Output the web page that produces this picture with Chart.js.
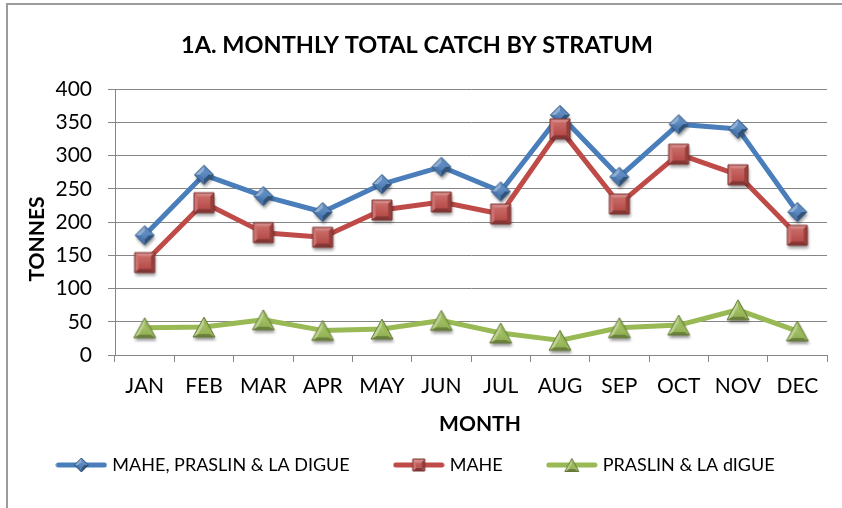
<!DOCTYPE html>
<html><head><meta charset="utf-8">
<script src="https://cdn.jsdelivr.net/npm/chart.js@4.4.1/dist/chart.umd.min.js"></script>
<style>
html,body{margin:0;padding:0;background:#fff;overflow:hidden;}
#wrap{position:relative;width:842px;height:508px;overflow:hidden;}
#frame{position:absolute;left:6px;top:3px;width:900px;height:600px;border:2px solid #9c9c9c;box-sizing:border-box;pointer-events:none;}
canvas{position:absolute;left:0;top:0;}
</style></head><body>
<div id="wrap"><canvas id="c" width="842" height="508"></canvas><div id="frame"></div></div>
<script>
// ---- data ----
const months = ['JAN','FEB','MAR','APR','MAY','JUN','JUL','AUG','SEP','OCT','NOV','DEC'];
const seriesNames = ['MAHE, PRASLIN & LA DIGUE','MAHE','PRASLIN & LA dIGUE'];
const totalCatch   = [180, 271, 239, 215, 257, 283, 246, 361, 268, 347, 340, 215];
const maheCatch    = [139, 229, 184, 177, 218, 230, 212, 340, 227, 302, 271, 180];
const praslinCatch = [ 41,  42,  53,  37,  39,  52,  33,  22,  41,  45,  68,  36];
const yMin = 0, yMax = 400, yStep = 50;
const chartTitle = '1A. MONTHLY TOTAL CATCH BY STRATUM';
const xTitle = 'MONTH';
const yTitle = 'TONNES';

// ---- styling helpers ----
const FONT = 'Lato';
function rgb(hex){const n=parseInt(hex.slice(1),16);return [n>>16,(n>>8)&255,n&255];}
function shade(hex,amt){let [r,g,b]=rgb(hex);
  if(amt>0){r+=(255-r)*amt;g+=(255-g)*amt;b+=(255-b)*amt;}else{r*=1+amt;g*=1+amt;b*=1+amt;}
  return 'rgb('+(r|0)+','+(g|0)+','+(b|0)+')';}
function poly(g,pts){g.beginPath();g.moveTo(pts[0][0],pts[0][1]);for(let i=1;i<pts.length;i++)g.lineTo(pts[i][0],pts[i][1]);g.closePath();}
function makeMarker(verts, base, size, f, shadow){
  const c=document.createElement('canvas');c.width=c.height=size;
  const g=c.getContext('2d');const m=size/2;
  const P=verts.map(([x,y])=>[m+x,m+y]);
  const C=[P.reduce((s,p)=>s+p[0],0)/P.length,P.reduce((s,p)=>s+p[1],0)/P.length];
  const Q=P.map(([x,y])=>[C[0]+(x-C[0])*f,C[1]+(y-C[1])*f]);
  if(shadow){g.save();g.shadowColor='rgba(0,0,0,0.38)';g.shadowBlur=3;g.shadowOffsetX=1;g.shadowOffsetY=3;
    poly(g,P);g.fillStyle=base;g.fill();g.restore();}
  const L=[-0.55,-0.83];
  for(let i=0;i<P.length;i++){
    const a=P[i],b=P[(i+1)%P.length];
    let nx=(a[0]+b[0])/2-C[0],ny=(a[1]+b[1])/2-C[1];const d=Math.hypot(nx,ny);nx/=d;ny/=d;
    const dot=nx*L[0]+ny*L[1];
    poly(g,[a,b,Q[(i+1)%P.length],Q[i]]);
    g.fillStyle=shade(base,dot*0.38);g.fill();
  }
  const top=Math.min(...Q.map(q=>q[1])),bot=Math.max(...Q.map(q=>q[1]));
  const gr=g.createLinearGradient(0,top,0,bot);gr.addColorStop(0,shade(base,0.15));gr.addColorStop(1,shade(base,-0.05));
  poly(g,Q);g.fillStyle=gr;g.fill();
  poly(g,P);g.lineWidth=1;g.strokeStyle=shade(base,-0.35);g.stroke();
  return c;
}
const diamond=r=>[[0,-r],[r,0],[0,r],[-r,0]];
const square=h=>[[-h,-h],[h,-h],[h,h],[-h,h]];
const triangle=(w,h)=>[[0,-h/2],[w/2,h/2],[-w/2,h/2]];

const lineColors=['#4A7EBB','#BE4B48','#98B954'];
const markerBase=['#4F81BD','#C0504D','#9BBB59'];
const markers=[
  makeMarker(diamond(9.5),markerBase[0],34,0.45,true),
  makeMarker(square(10),markerBase[1],34,0.62,true),
  makeMarker(triangle(22,20),markerBase[2],34,0.5,true)
];
function legendIcon(i){
  const c=document.createElement('canvas');c.width=52;c.height=18;
  const g=c.getContext('2d');
  g.beginPath();g.moveTo(3,9);g.lineTo(49,9);g.lineWidth=5;g.lineCap='round';g.strokeStyle=lineColors[i];g.stroke();
  const shapes=[diamond(7),square(6),triangle(14,13)];
  const mk=makeMarker(shapes[i],markerBase[i],18,0.45,false);
  g.drawImage(mk,26-9,0);
  return c;
}
const legendIcons=[0,1,2].map(legendIcon);

function build(){
  Chart.defaults.font.family=FONT;
  Chart.defaults.color='#000';
  const axisTitles={
    id:'axisTitles',
    afterDraw(chart){
      const {ctx,chartArea:a}=chart;
      ctx.save();ctx.fillStyle='#000';ctx.font='bold 21px '+FONT;ctx.textAlign='center';ctx.textBaseline='middle';
      ctx.fillText(xTitle,(a.left+a.right)/2+9,a.bottom+69);
      ctx.translate(a.left-78,(a.top+a.bottom)/2+17);ctx.rotate(-Math.PI/2);
      ctx.fillText(yTitle,0,0);
      ctx.restore();
    }
  };
  const values=[totalCatch,maheCatch,praslinCatch];
  new Chart(document.getElementById('c'),{
    type:'line',
    data:{
      labels:months,
      datasets:values.map((v,i)=>({
        label:seriesNames[i],data:v,
        borderColor:lineColors[i],backgroundColor:lineColors[i],
        borderWidth:5,borderJoinStyle:'round',borderCapStyle:'round',
        pointStyle:markers[i],pointRadius:10,pointHoverRadius:10,
        tension:0,fill:false,order:3-i
      }))
    },
    options:{
      responsive:false,animation:false,devicePixelRatio:1,events:[],
      layout:{padding:{left:5,right:13,top:0,bottom:24}},
      plugins:{
        tooltip:{enabled:false},
        title:{display:true,text:chartTitle,font:{family:FONT,size:23.5,weight:'bold'},color:'#000',padding:{top:31,bottom:29.8}},
        legend:{position:'bottom',
          labels:{usePointStyle:true,pointStyleWidth:44,padding:47,color:'#000',font:{family:FONT,size:18},
            generateLabels(chart){
              const items=Chart.defaults.plugins.legend.labels.generateLabels(chart);
              items.forEach(it=>{it.pointStyle=legendIcons[it.datasetIndex];});
              return items;
            },
            sort:(a,b)=>a.datasetIndex-b.datasetIndex}
        }
      },
      scales:{
        x:{
          offset:true,
          grid:{display:true,drawOnChartArea:false,drawTicks:true,tickLength:7,offset:true,color:'#868686',lineWidth:1},
          border:{display:true,color:'#868686',width:1},
          ticks:{font:{family:FONT,size:21},color:'#000',padding:12,maxRotation:0,autoSkip:false},
          afterFit(s){s.height=54;}
        },
        y:{
          min:yMin,max:yMax,
          grid:{color:'#868686',lineWidth:1,tickLength:7,drawTicks:true},
          border:{display:true,color:'#868686',width:1},
          ticks:{stepSize:yStep,font:{family:FONT,size:21},color:'#000',padding:16},
          afterFit(s){s.width=110;}
        }
      }
    },
    plugins:[axisTitles]
  });
}
Promise.all([document.fonts.load('21px Lato'),document.fonts.load('bold 23.5px Lato')]).then(build,build);
</script>
</body></html>
